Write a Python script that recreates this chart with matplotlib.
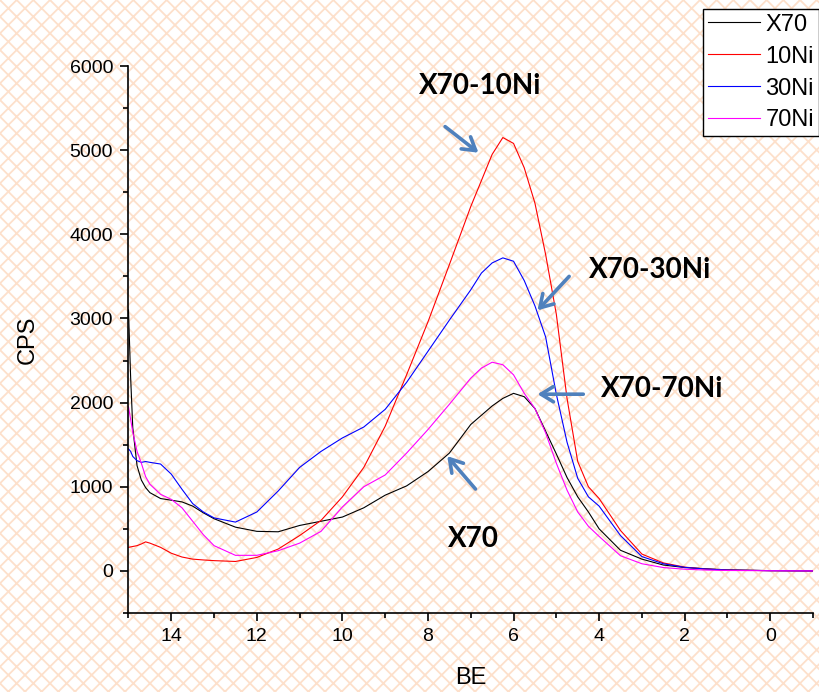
import numpy as np
import matplotlib
matplotlib.use("Agg")
import matplotlib.pyplot as plt
import matplotlib.ticker as mtick
from matplotlib.patches import Rectangle

plt.rcParams['font.family'] = ['Liberation Sans', 'DejaVu Sans']
plt.rcParams['hatch.linewidth'] = 1.3

# binding energy grid (eV) and counts
be = [15.0, 14.95, 14.9, 14.8, 14.7, 14.6, 14.5, 14.25, 14.0, 13.75, 13.5, 13.25,
      13.0, 12.5, 12.0, 11.5, 11.0, 10.5, 10.0, 9.5, 9.0, 8.5, 8.0, 7.5, 7.0,
      6.75, 6.5, 6.25, 6.0, 5.75, 5.5, 5.25, 5.0, 4.75, 4.5, 4.25, 4.0, 3.5,
      3.0, 2.5, 2.0, 1.5, 1.0, 0.0, -1.0]

x70 = [3100, 2300, 1700, 1250, 1080, 990, 930, 860, 840, 820, 770, 690,
       620, 520, 470, 465, 540, 590, 640, 750, 900, 1010, 1180, 1400, 1740,
       1850, 1960, 2050, 2110, 2070, 1930, 1660, 1390, 1110, 880, 700, 500, 245,
       140, 70, 40, 25, 12, 3, 0]

ni10 = [280, 285, 290, 300, 320, 345, 330, 280, 210, 165, 140, 130,
        122, 112, 160, 260, 420, 600, 880, 1230, 1720, 2330, 2960, 3640, 4330,
        4640, 4950, 5150, 5080, 4790, 4370, 3760, 3050, 2050, 1300, 1000, 860, 480,
        200, 95, 45, 22, 10, 3, 0]

ni30 = [1450, 1420, 1360, 1310, 1290, 1300, 1290, 1270, 1150, 970, 800, 700,
        630, 580, 700, 950, 1230, 1420, 1580, 1710, 1920, 2240, 2610, 2980, 3340,
        3540, 3660, 3720, 3680, 3450, 3150, 2780, 2100, 1530, 1100, 880, 770, 420,
        170, 85, 42, 22, 10, 3, 0]

ni70 = [1950, 1800, 1650, 1420, 1280, 1120, 1030, 910, 850, 750, 590, 430,
        300, 185, 185, 240, 330, 470, 760, 1000, 1140, 1400, 1680, 1980, 2290,
        2410, 2480, 2450, 2330, 2110, 1930, 1640, 1280, 960, 700, 530, 410, 180,
        85, 40, 20, 10, 5, 2, 0]

labels = ["X70", "10Ni", "30Ni", "70Ni"]
colors = ["black", "red", "blue", "magenta"]

fig = plt.figure(figsize=(8.2, 6.92), dpi=100)
fig.patch.set_facecolor("white")
bg = Rectangle((0, 0), 1, 1, transform=fig.transFigure, facecolor="white",
               edgecolor="#fde0cb", hatch="xx", lw=0, zorder=-10)
fig.patches.append(bg)

ax = fig.add_axes([0.1567, 0.1142, 0.8348, 0.7904])
ax.set_facecolor("none")

for y, lab, c in zip([x70, ni10, ni30, ni70], labels, colors):
    ax.plot(be, y, color=c, lw=0.8, label=lab)

ax.set_xlim(15, -1)
ax.set_ylim(-500, 6000)
ax.xaxis.set_major_locator(mtick.MultipleLocator(2))
ax.xaxis.set_minor_locator(mtick.FixedLocator([15, 13, 11, 9, 7, 5, 3, 1, -1]))
ax.yaxis.set_minor_locator(mtick.MultipleLocator(500))
ax.set_yticks(range(0, 6001, 1000))
ax.tick_params(which="major", direction="out", length=6, width=1.2, labelsize=14, pad=5)
ax.tick_params(which="minor", direction="out", length=3.5, width=1.2)
for s in ["top", "right"]:
    ax.spines[s].set_visible(False)
for s in ["left", "bottom"]:
    ax.spines[s].set_linewidth(1.2)

ax.set_xlabel("BE", fontsize=17, labelpad=16)
ax.set_ylabel("CPS", fontsize=17, labelpad=22)

# annotations
akw = dict(arrowstyle="->,head_length=0.9,head_width=0.55", color="#4f81bd",
           lw=2.6, shrinkA=0, shrinkB=0)
tkw = dict(fontsize=20, fontweight="bold", family="Lato", ha="center", va="center")
ax.annotate("", xy=(6.82, 4970), xytext=(7.60, 5280), arrowprops=akw)
ax.annotate("", xy=(5.44, 3096), xytext=(4.70, 3500), arrowprops=akw)
ax.annotate("", xy=(5.44, 2100), xytext=(4.37, 2100), arrowprops=akw)
ax.annotate("", xy=(7.55, 1364), xytext=(6.89, 973), arrowprops=akw)
ax.text(6.77, 5765, "X70-10Ni", **tkw)
ax.text(2.80, 3570, "X70-30Ni", **tkw)
ax.text(2.52, 2159, "X70-70Ni", **tkw)
ax.text(6.94, 380, "X70", **tkw)

leg = fig.legend(loc="upper left", bbox_to_anchor=(703 / 820, 1 - 9 / 692),
                 fontsize=17, frameon=True, fancybox=False, borderpad=0.2,
                 handlelength=2.2, handletextpad=0.25, labelspacing=0.42,
                 borderaxespad=0)
leg.get_frame().set_edgecolor("black")
leg.get_frame().set_linewidth(1.0)
leg.get_frame().set_alpha(1)

fig.savefig("out.png", dpi=100, facecolor=fig.get_facecolor())
